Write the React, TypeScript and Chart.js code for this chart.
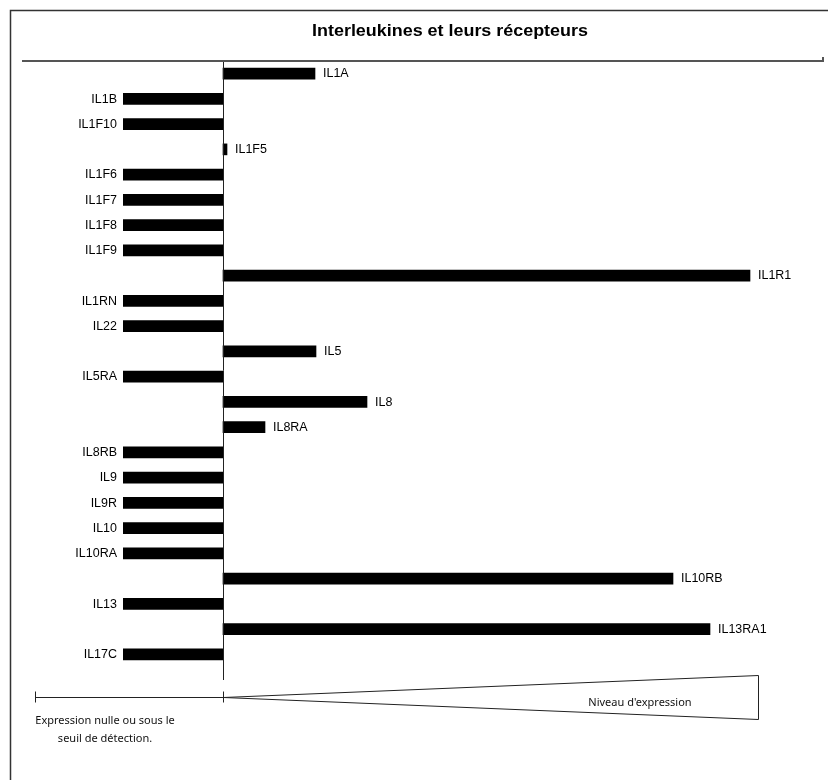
import React, { useEffect, useRef } from "react";
import { Chart, registerables } from "chart.js";

Chart.register(...registerables);

const TITLE = "Interleukines et leurs récepteurs";
const categories = [
  "IL1A", "IL1B", "IL1F10", "IL1F5", "IL1F6", "IL1F7", "IL1F8", "IL1F9",
  "IL1R1", "IL1RN", "IL22", "IL5", "IL5RA", "IL8", "IL8RA", "IL8RB",
  "IL9", "IL9R", "IL10", "IL10RA", "IL10RB", "IL13", "IL13RA1", "IL17C",
];
// -1 = expression nulle ou sous le seuil de détection
const expression = [
  0.92, -1, -1, 0.04, -1, -1, -1, -1,
  5.27, -1, -1, 0.93, -1, 1.44, 0.42, -1,
  -1, -1, -1, -1, 4.5, -1, 4.87, -1,
];
const legendLeftLines = ["Expression nulle ou sous le", "seuil de détection."];
const legendRightText = "Niveau d'expression";

const decorPlugin = {
  id: "decor",
  afterDatasetsDraw(chart: any) {
    const ctx = chart.ctx as CanvasRenderingContext2D;
    const meta = chart.getDatasetMeta(0);
    const xs = chart.scales.x;
    const area = chart.chartArea;
    const x0 = Math.round(xs.getPixelForValue(0)) + 0.5;
    ctx.save();
    // bar labels
    ctx.font = "12px 'Liberation Sans', Arial, sans-serif";
    ctx.fillStyle = "#000";
    ctx.textBaseline = "middle";
    meta.data.forEach((bar: any, i: number) => {
      const v = expression[i];
      ctx.save();
      if (v < 0) {
        ctx.translate(bar.x - 6, bar.y + 0.5);
        ctx.scale(1.04, 1);
        ctx.textAlign = "right";
        ctx.fillText(categories[i], 0, 0);
      } else {
        ctx.translate(bar.x + 8, bar.y + 0.5);
        ctx.scale(1.04, 1);
        ctx.textAlign = "left";
        ctx.fillText(categories[i], 0, 0);
      }
      ctx.restore();
    });
    // zero line
    ctx.strokeStyle = "#222";
    ctx.lineWidth = 1;
    ctx.beginPath();
    ctx.moveTo(x0, area.top);
    ctx.lineTo(x0, area.bottom + 13);
    ctx.stroke();

    // title underline
    ctx.strokeStyle = "#555";
    ctx.lineWidth = 2;
    ctx.beginPath();
    ctx.moveTo(22, area.top);
    ctx.lineTo(823, area.top);
    ctx.lineTo(823, area.top - 4);
    ctx.stroke();

    // frame
    ctx.strokeStyle = "#333";
    ctx.lineWidth = 1.5;
    ctx.beginPath();
    ctx.moveTo(10.5, 780);
    ctx.lineTo(10.5, 10.5);
    ctx.lineTo(828, 10.5);
    ctx.stroke();

    // title
    ctx.font = "bold 16px 'Liberation Sans', Arial, sans-serif";
    ctx.textAlign = "center";
    ctx.textBaseline = "middle";
    ctx.fillStyle = "#000";
    ctx.save();
    ctx.translate(450, 32);
    ctx.scale(1.12, 1);
    ctx.fillText(TITLE, 0, 0);
    ctx.restore();

    // legend
    const ly = area.bottom + 30.5;
    const lx = 35.5;
    const rx = 758.5;
    ctx.strokeStyle = "#222";
    ctx.lineWidth = 1;
    ctx.beginPath();
    ctx.moveTo(lx, ly);
    ctx.lineTo(x0, ly);
    ctx.moveTo(lx, ly - 6);
    ctx.lineTo(lx, ly + 5);
    ctx.moveTo(x0, ly - 6);
    ctx.lineTo(x0, ly + 5);
    ctx.moveTo(x0, ly);
    ctx.lineTo(rx, ly - 22);
    ctx.lineTo(rx, ly + 22);
    ctx.lineTo(x0, ly);
    ctx.stroke();

    ctx.font = "11px 'Liberation Sans Narrow', 'Noto Sans', sans-serif";
    ctx.fillStyle = "#111";
    ctx.textAlign = "center";
    ctx.fillText(legendRightText, 640, ly + 5);
    ctx.fillText(legendLeftLines[0], 105, ly + 23);
    ctx.fillText(legendLeftLines[1], 105, ly + 41);
    ctx.restore();
  },
};

export default function App() {
  const ref = useRef<HTMLCanvasElement | null>(null);
  useEffect(() => {
    if (!ref.current) return;
    const chart = new Chart(ref.current, {
      type: "bar",
      data: {
        labels: categories,
        datasets: [
          {
            data: expression,
            backgroundColor: "#000",
            borderWidth: 0,
            barThickness: 11,
          },
        ],
      },
      options: {
        indexAxis: "y",
        animation: false,
        responsive: false,
        maintainAspectRatio: false,
        layout: { padding: { left: 123, right: 5, top: 61, bottom: 113 } },
        plugins: {
          legend: { display: false },
          tooltip: { enabled: false },
          title: { display: false },
        },
        scales: {
          x: { display: false, min: -1, max: 6 },
          y: { display: false },
        },
      },
      plugins: [decorPlugin],
    });
    return () => chart.destroy();
  }, []);
  return (
    <div style={{ position: "absolute", left: 0, top: 0, width: 828, height: 780, background: "#fff" }}>
      <canvas ref={ref} width={828} height={780} />
    </div>
  );
}
